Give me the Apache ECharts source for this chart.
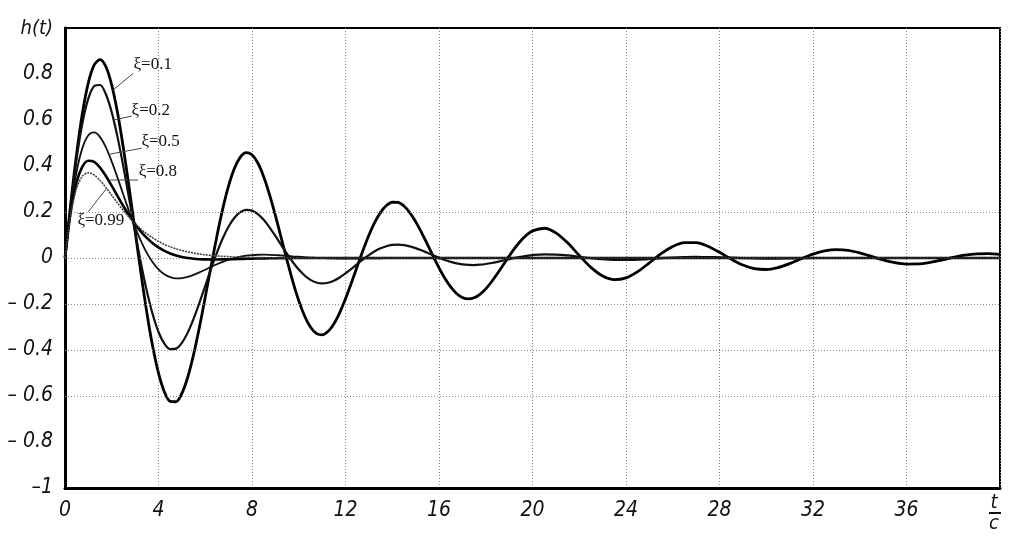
<!DOCTYPE html>
<html><head><meta charset="utf-8">
<script src="https://cdn.jsdelivr.net/npm/echarts@6/dist/echarts.min.js"></script>
<style>html,body{margin:0;padding:0;background:#fff}#c{width:1034px;height:556px}</style>
</head><body><div id="c"></div>
<script>
// time samples t (s): 0..20 every 0.25, then 20.5..40 every 0.5
const T = [0,0.25,0.5,0.75,1,1.25,1.5,1.75,2,2.25,2.5,2.75,3,3.25,3.5,3.75,4,4.25,4.5,4.75,5,5.25,5.5,5.75,6,6.25,6.5,6.75,7,7.25,7.5,7.75,8,8.25,8.5,8.75,9,9.25,9.5,9.75,10,10.25,10.5,10.75,11,11.25,11.5,11.75,12,12.25,12.5,12.75,13,13.25,13.5,13.75,14,14.25,14.5,14.75,15,15.25,15.5,15.75,16,16.25,16.5,16.75,17,17.25,17.5,17.75,18,18.25,18.5,18.75,19,19.25,19.5,19.75,20,
  20.5,21,21.5,22,22.5,23,23.5,24,24.5,25,25.5,26,26.5,27,27.5,28,28.5,29,29.5,30,30.5,31,31.5,32,32.5,33,33.5,34,34.5,35,35.5,36,36.5,37,37.5,38,38.5,39,39.5,40];
// h(t)
const xi01 = [0,0.2413,0.4562,0.6330,0.7628,0.8399,0.8624,0.8315,0.7516,0.6301,0.4763,0.3011,0.1161,-0.0668,-0.2368,-0.3841,-0.5009,-0.5817,-0.6232,-0.6250,-0.5887,-0.5185,-0.4203,-0.3014,-0.1700,-0.0347,0.0961,0.2147,0.3145,0.3903,0.4388,0.4583,0.4491,0.4130,0.3537,0.2758,0.1850,0.0874,-0.0107,-0.1034,-0.1853,-0.2520,-0.3002,-0.3278,-0.3341,-0.3199,-0.2870,-0.2383,-0.1775,-0.1089,-0.0371,0.0335,0.0987,0.1546,0.1985,0.2281,0.2425,0.2415,0.2259,0.1973,0.1582,0.1114,0.0601,0.0077,-0.0427,-0.0880,-0.1257,-0.1540,-0.1716,-0.1779,-0.1731,-0.1580,-0.1341,-0.1033,-0.0676,-0.0296,0.0083,0.0439,0.0751,0.1002,0.1180,
  0.1294,0.1095,0.0660,0.0113,-0.0409,-0.0785,-0.0943,-0.0866,-0.0595,-0.0211,0.0186,0.0502,0.0670,0.0667,0.0508,0.0246,-0.0048,-0.0303,-0.0463,-0.0500,-0.0417,-0.0245,-0.0032,0.0168,0.0310,0.0366,0.0332,0.0223,0.0073,-0.0080,-0.0200,-0.0262,-0.0257,-0.0192,-0.0089,0.0025,0.0122,0.0182,0.0193,0.0159];
const xi02 = [0,0.2354,0.4345,0.5890,0.6939,0.7477,0.7522,0.7118,0.6331,0.5244,0.3950,0.2546,0.1125,-0.0228,-0.1438,-0.2448,-0.3217,-0.3723,-0.3960,-0.3940,-0.3689,-0.3244,-0.2649,-0.1954,-0.1210,-0.0464,0.0237,0.0858,0.1370,0.1751,0.1992,0.2093,0.2060,0.1909,0.1659,0.1334,0.0962,0.0568,0.0178,-0.0186,-0.0504,-0.0761,-0.0950,-0.1064,-0.1104,-0.1075,-0.0986,-0.0846,-0.0670,-0.0471,-0.0263,-0.0059,0.0129,0.0291,0.0421,0.0513,0.0567,0.0581,0.0560,0.0508,0.0431,0.0335,0.0229,0.0119,0.0013,-0.0084,-0.0167,-0.0232,-0.0277,-0.0301,-0.0306,-0.0291,-0.0261,-0.0219,-0.0167,-0.0110,-0.0053,0.0003,0.0052,0.0094,0.0127,
  0.0160,0.0151,0.0111,0.0053,-0.0006,-0.0053,-0.0080,-0.0084,-0.0069,-0.0041,-0.0009,0.0019,0.0038,0.0045,0.0041,0.0028,0.0012,-0.0004,-0.0016,-0.0023,-0.0023,-0.0018,-0.0010,-0.0001,0,0,0,0,0,0,0,0,0,0,0,0,0,0,0,0];
const xi05 = [0,0.2189,0.3773,0.4800,0.5335,0.5458,0.5254,0.4806,0.4193,0.3484,0.2741,0.2011,0.1332,0.0730,0.0221,-0.0187,-0.0495,-0.0708,-0.0834,-0.0887,-0.0879,-0.0825,-0.0737,-0.0628,-0.0509,-0.0388,-0.0272,-0.0167,-0.0076,-0.0001,0.0057,0.0100,0.0127,0.0142,0.0145,0.0140,0.0128,0.0112,0.0093,0.0073,0.0054,0.0036,0.0020,0.0006,-0.0005,-0.0013,-0.0019,-0.0022,-0.0024,-0.0024,-0.0022,-0.0020,-0.0017,-0.0014,-0.0010,-0.0007,-0.0005,-0.0003,0,0,0,0,0,0,0,0,0,0,0,0,0,0,0,0,0,0,0,0,0,0,0,
  0,0,0,0,0,0,0,0,0,0,0,0,0,0,0,0,0,0,0,0,0,0,0,0,0,0,0,0,0,0,0,0,0,0,0,0,0,0,0,0];
const xi08 = [0,0.2039,0.3302,0.3979,0.4228,0.4179,0.3932,0.3565,0.3136,0.2688,0.2250,0.1841,0.1472,0.1150,0.0875,0.0646,0.0459,0.0310,0.0195,0.0107,0.0043,-0.0002,-0.0032,-0.0051,-0.0061,-0.0064,-0.0063,-0.0059,-0.0054,-0.0047,-0.0040,-0.0034,-0.0028,-0.0022,-0.0017,-0.0013,-0.0010,-0.0007,-0.0005,-0.0003,-0.0002,0,0,0,0,0,0,0,0,0,0,0,0,0,0,0,0,0,0,0,0,0,0,0,0,0,0,0,0,0,0,0,0,0,0,0,0,0,0,0,0,
  0,0,0,0,0,0,0,0,0,0,0,0,0,0,0,0,0,0,0,0,0,0,0,0,0,0,0,0,0,0,0,0,0,0,0,0,0,0,0,0];
const xi099 = [0,0.1951,0.3045,0.3563,0.3703,0.3608,0.3372,0.3063,0.2725,0.2385,0.2061,0.1762,0.1494,0.1257,0.1051,0.0874,0.0723,0.0595,0.0488,0.0399,0.0325,0.0265,0.0214,0.0173,0.0140,0.0112,0.0090,0.0072,0.0058,0.0046,0.0037,0.0029,0.0023,0.0018,0.0015,0.0012,0.0009,0.0007,0.0006,0.0004,0.0004,0,0,0,0,0,0,0,0,0,0,0,0,0,0,0,0,0,0,0,0,0,0,0,0,0,0,0,0,0,0,0,0,0,0,0,0,0,0,0,0,
  0,0,0,0,0,0,0,0,0,0,0,0,0,0,0,0,0,0,0,0,0,0,0,0,0,0,0,0,0,0,0,0,0,0,0,0,0,0,0,0];
const seriesNames = ['ξ=0.1','ξ=0.2','ξ=0.5','ξ=0.8','ξ=0.99'];
const hGridLevels = [0.2, 0, -0.2, -0.4, -0.6];

const values = [xi01, xi02, xi05, xi08, xi099];
const lineStyles = [
  {color:'#000', width:2.8, type:'solid'},
  {color:'#111', width:2.2, type:'solid'},
  {color:'#111', width:1.8, type:'solid'},
  {color:'#000', width:2.6, type:'solid'},
  {color:'#444', width:1.6, type:[2,1]}
];
const axisFont = '"Liberation Sans Narrow","DejaVu Sans Condensed","Roboto Condensed","Liberation Sans",sans-serif';

const chart = echarts.init(document.getElementById('c'), null, {renderer:'canvas'});
const series = values.map((v, k) => ({
  name: seriesNames[k], type:'line', data: T.map((t,i)=>[t, v[i]]),
  smooth: 0.3, showSymbol:false, symbol:'none', silent:true, z: 3 + k,
  lineStyle: lineStyles[k]
}));
series.push({
  type:'line', data:[], silent:true, z:1,
  markLine:{ silent:true, symbol:'none', label:{show:false},
    lineStyle:{color:'#888', width:1, type:[1,2]},
    data: hGridLevels.map(y=>({yAxis:y})) }
});

chart.setOption({
  animation:false,
  grid:{left:65, right:34, top:28, bottom:68, show:true, borderColor:'#000', borderWidth:2},
  xAxis:{type:'value', min:0, max:40, interval:4,
    axisLine:{onZero:false, lineStyle:{color:'#000', width:3}},
    axisTick:{show:false},
    splitLine:{show:true, lineStyle:{color:'#888', width:1, type:[1,2]}},
    axisLabel:{margin:12, color:'#111', fontSize:21, fontStyle:'italic', fontFamily:axisFont,
      formatter: v => v === 40 ? '' : String(v)}
  },
  yAxis:{type:'value', min:-1, max:1, interval:0.2,
    axisLine:{onZero:false, show:true, lineStyle:{color:'#000', width:3}},
    axisTick:{show:false},
    splitLine:{show:false},
    axisLabel:{margin:12, color:'#111', fontSize:21, fontStyle:'italic', fontFamily:axisFont,
      formatter: v => { const r = Math.round(v*10)/10;
        if (r === 1) return ''; if (r === 0) return '0'; if (r === -1) return '\u20131';
        return r < 0 ? '\u2013 ' + (-r).toFixed(1) : r.toFixed(1); }}
  },
  series: series
});

// annotations (data coordinates)
const ann = [
  {text:seriesNames[0], at:[2.93,0.839], from:[2.05,0.73], to:[2.92,0.803]},
  {text:seriesNames[1], at:[2.85,0.643], from:[2.1,0.60], to:[2.85,0.617]},
  {text:seriesNames[2], at:[3.27,0.506], from:[1.93,0.452], to:[3.28,0.477]},
  {text:seriesNames[3], at:[3.15,0.374], from:[1.93,0.339], to:[3.12,0.339]},
  {text:seriesNames[4], at:[0.53,0.161], from:[1.0,0.201], to:[1.78,0.303]}
];
const px = p => chart.convertToPixel({gridIndex:0}, p);
const g = [];
ann.forEach(a => {
  const f = px(a.from), t = px(a.to), s = px(a.at);
  g.push({type:'line', silent:true, z:20, shape:{x1:f[0], y1:f[1], x2:t[0], y2:t[1]}, style:{stroke:'#444', lineWidth:1}});
  g.push({type:'text', silent:true, z:21, x:s[0], y:s[1], style:{text:a.text, fill:'#111', font:'17px "Liberation Serif","Times New Roman",serif', textAlign:'left', textVerticalAlign:'middle'}});
});
const corner = px([40,-1]);
const ax0 = px([0,1]);
g.push({type:'text', silent:true, z:21, x:ax0[0]-12, y:ax0[1]+1, style:{text:'h(t)', fill:'#111', font:'italic 20px ' + axisFont, textAlign:'right', textVerticalAlign:'middle'}});
g.push({type:'text', silent:true, z:21, x:corner[0]-6, y:corner[1]+15, style:{text:'t', fill:'#111', font:'italic 20px ' + axisFont, textAlign:'center', textVerticalAlign:'middle'}});
g.push({type:'line', silent:true, z:21, shape:{x1:corner[0]-11, y1:corner[1]+25, x2:corner[0]+1, y2:corner[1]+25}, style:{stroke:'#111', lineWidth:2}});
g.push({type:'text', silent:true, z:21, x:corner[0]-6, y:corner[1]+36, style:{text:'c', fill:'#111', font:'italic 20px ' + axisFont, textAlign:'center', textVerticalAlign:'middle'}});
chart.setOption({graphic: g});
</script></body></html>
